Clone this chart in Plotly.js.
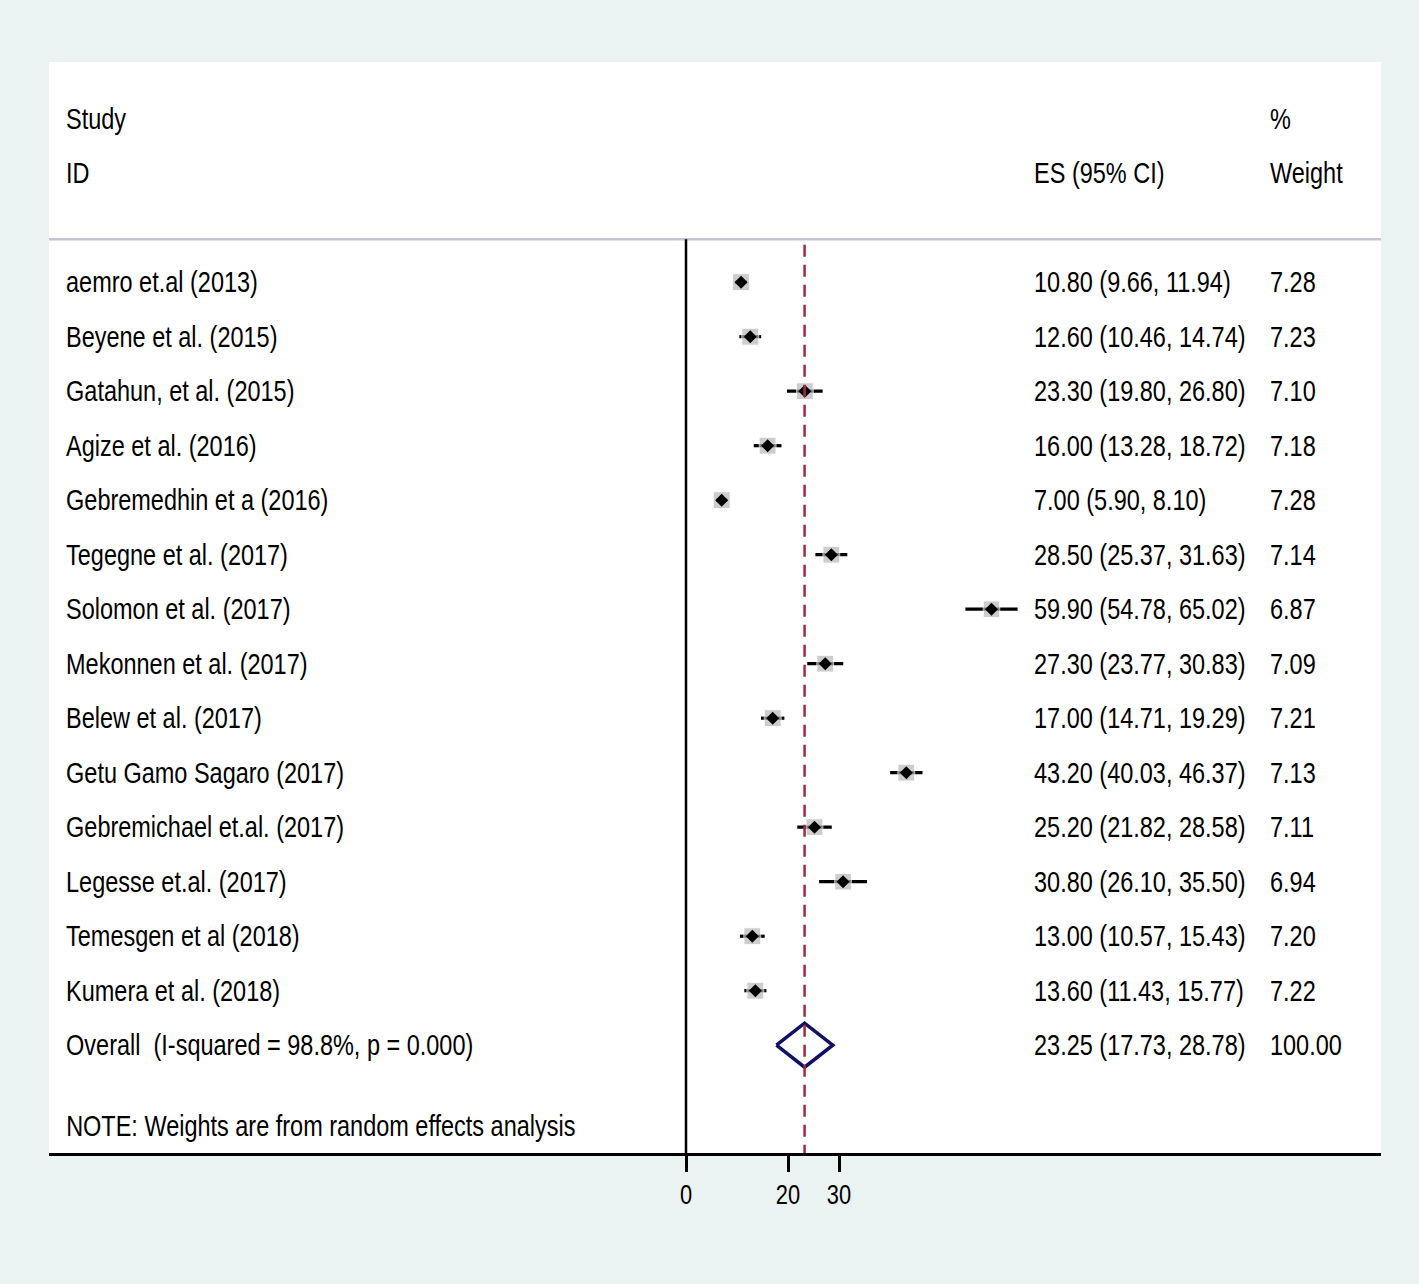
<!DOCTYPE html>
<html>
<head>
<meta charset="utf-8">
<script src="https://cdn.plot.ly/plotly-3.0.1.min.js"></script>
<style>
  html, body { margin: 0; padding: 0; background: #eaf2f2; }
  #chart { width: 1419px; height: 1284px; }
</style>
</head>
<body>
<div id="chart"></div>
<script>
// forest plot data (random effects)
const studies = [
  'aemro et.al (2013)', 'Beyene et al. (2015)', 'Gatahun, et al. (2015)', 'Agize et al. (2016)',
  'Gebremedhin et a (2016)', 'Tegegne et al. (2017)', 'Solomon et al. (2017)', 'Mekonnen et al. (2017)',
  'Belew et al. (2017)', 'Getu Gamo Sagaro (2017)', 'Gebremichael et.al. (2017)', 'Legesse et.al. (2017)',
  'Temesgen et al (2018)', 'Kumera et al. (2018)'
];
const es     = [10.80, 12.60, 23.30, 16.00, 7.00, 28.50, 59.90, 27.30, 17.00, 43.20, 25.20, 30.80, 13.00, 13.60];
const lci    = [9.66, 10.46, 19.80, 13.28, 5.90, 25.37, 54.78, 23.77, 14.71, 40.03, 21.82, 26.10, 10.57, 11.43];
const uci    = [11.94, 14.74, 26.80, 18.72, 8.10, 31.63, 65.02, 30.83, 19.29, 46.37, 28.58, 35.50, 15.43, 15.77];
const weight = [7.28, 7.23, 7.10, 7.18, 7.28, 7.14, 6.87, 7.09, 7.21, 7.13, 7.11, 6.94, 7.20, 7.22];

const overallLabel = 'Overall  (I-squared = 98.8%, p = 0.000)';
const overall = { es: 23.25, lci: 17.73, uci: 28.78, weight: 100.00 };
const note = 'NOTE: Weights are from random effects analysis';
const xTicks = [0, 20, 30];

const FONT = 'Liberation Sans, Arial, sans-serif';
const FS = 29;
const SQUEEZE = 0.81;   // the original uses a narrow Helvetica

const rows = studies.map((_, i) => i);
const oRow = studies.length;
const yTop = -4.04, yBot = 15.978;
const sepY = -0.789;

// CI whiskers
const ciX = [], ciY = [];
rows.forEach(i => { ciX.push(lci[i], uci[i], null); ciY.push(i, i, null); });

const traces = [
  { x: ciX, y: ciY, mode: 'lines', line: { color: '#000', width: 3.2 }, hoverinfo: 'skip' },
  { x: es, y: rows, mode: 'markers', hoverinfo: 'skip',
    marker: { symbol: 'square', color: '#b8b8b8', size: weight.map(w => 17 * Math.sqrt(w / 7.28)) } },
  { x: es, y: rows, mode: 'markers', hoverinfo: 'skip',
    marker: { symbol: 'diamond', color: '#000', size: 10 } },
  { x: [overall.lci, overall.es, overall.uci, overall.es, overall.lci],
    y: [oRow, oRow - 0.404, oRow, oRow + 0.404, oRow],
    mode: 'lines', line: { color: '#101064', width: 3.5 }, hoverinfo: 'skip' }
];

const ann = [];
function txt(x, y, text) {
  ann.push({ xref: 'paper', yref: 'y', x: x, y: y, text: text, showarrow: false,
    xanchor: 'left', yanchor: 'middle', font: { family: FONT, size: FS, color: '#000' } });
}
const xName = 0.0113, xEs = 0.738, xW = 0.9152;
txt(xName, -3, 'Study');
txt(xName, -2, 'ID');
txt(xEs, -2, 'ES (95% CI)');
txt(xW, -3, '%');
txt(xW, -2, 'Weight');
rows.forEach(i => {
  txt(xName, i, studies[i]);
  txt(xEs, i, `${es[i].toFixed(2)} (${lci[i].toFixed(2)}, ${uci[i].toFixed(2)})`);
  txt(xW, i, weight[i].toFixed(2));
});
txt(xName, oRow, overallLabel);
txt(xEs, oRow, `${overall.es.toFixed(2)} (${overall.lci.toFixed(2)}, ${overall.uci.toFixed(2)})`);
txt(xW, oRow, overall.weight.toFixed(2));
txt(xName, 15.49, note);

const shapes = [
  { type: 'line', xref: 'paper', yref: 'y', x0: 0, x1: 1, y0: sepY, y1: sepY,
    line: { color: '#c4c4d4', width: 2.5 } },
  { type: 'line', xref: 'x', yref: 'y', x0: 0, x1: 0, y0: sepY, y1: yBot,
    line: { color: '#000', width: 2.5 } },
  { type: 'line', xref: 'x', yref: 'y', x0: overall.es, x1: overall.es, y0: sepY + 0.1, y1: yBot,
    line: { color: '#a02c3c', width: 2.5, dash: '12px,8px' } }
];

const layout = {
  width: 1419, height: 1284,
  paper_bgcolor: '#eaf2f2', plot_bgcolor: '#ffffff',
  margin: { l: 49, r: 38, t: 62, b: 131 },
  showlegend: false,
  font: { family: FONT, size: FS, color: '#000' },
  xaxis: {
    range: [(49 - 686) / 5.1, (1381 - 686) / 5.1],
    tickvals: xTicks, ticktext: xTicks.map(String),
    ticks: 'outside', ticklen: 16, tickwidth: 3, tickcolor: '#000',
    showgrid: false, zeroline: false,
    showline: true, linecolor: '#000', linewidth: 3,
    tickfont: { family: FONT, size: 27, color: '#000' }
  },
  yaxis: {
    range: [yBot, yTop], visible: false, showgrid: false, zeroline: false
  },
  annotations: ann,
  shapes: shapes
};

// squeeze text horizontally, keeping left edge (annotations) or centre (ticks)
function squeeze(sel, anchorCentre) {
  document.querySelectorAll(sel).forEach(t => {
    const b = t.getBBox();
    const ax = anchorCentre ? b.x + b.width / 2 : b.x;
    const old = t.getAttribute('transform') || '';
    t.setAttribute('transform', `${old} translate(${ax},0) scale(${SQUEEZE},1) translate(${-ax},0)`);
  });
}

Plotly.newPlot('chart', traces, layout, { staticPlot: true, displayModeBar: false }).then(() => {
  squeeze('#chart .annotation-text', false);
  squeeze('#chart .xtick text', true);
});
</script>
</body>
</html>
